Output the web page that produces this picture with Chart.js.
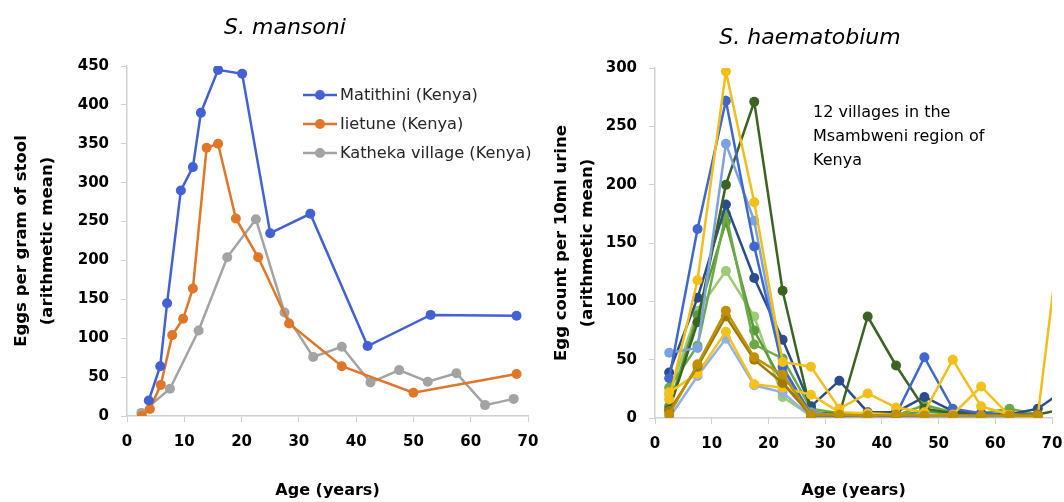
<!DOCTYPE html>
<html>
<head>
<meta charset="utf-8">
<script src="https://cdn.jsdelivr.net/npm/chart.js@4.4.1/dist/chart.umd.min.js"></script>
<style>
  html, body { margin: 0; padding: 0; background: #fff; }
  body { width: 1064px; height: 502px; position: relative; overflow: hidden; }
  .panel { position: absolute; top: 0; height: 502px; }
  #left { left: 0; width: 540px; }
  #right { left: 540px; width: 524px; }
</style>
</head>
<body>
<div class="panel" id="left"><canvas id="mansoni"></canvas></div>
<div class="panel" id="right"><canvas id="haema"></canvas></div>
<script>
// S. mansoni, three villages (age in years, eggs per gram)
const mansoniLabels = ['Matithini (Kenya)', 'Iietune (Kenya)', 'Katheka village (Kenya)'];
const matithiniAge = [3.8, 5.8, 7, 9.4, 11.5, 12.9, 15.9, 20.1, 25, 32, 42, 53, 68];
const matithiniEggs = [20, 64, 145, 290, 320, 390, 445, 440, 235, 260, 90, 130, 129];
const iietuneAge = [2.6, 4, 5.9, 7.9, 9.8, 11.5, 13.9, 15.9, 19, 22.9, 28.3, 37.5, 50, 68];
const iietuneEggs = [0, 9, 40, 104, 125, 164, 345, 350, 254, 204, 119, 64, 30, 54];
const kathekaAge = [2.5, 7.5, 12.5, 17.5, 22.5, 27.5, 32.5, 37.5, 42.5, 47.5, 52.5, 57.5, 62.5, 67.5];
const kathekaEggs = [4, 35, 110, 204, 253, 133, 76, 89, 43, 59, 44, 55, 14, 22];

// S. haematobium, 12 villages in Msambweni (age group midpoints)
const haemAges = [2.5, 7.5, 12.5, 17.5, 22.5, 27.5, 32.5, 37.5, 42.5, 47.5, 52.5, 57.5, 62.5, 67.5, 72.5];
const village1 = [3, 46, 92, 52, 37, 3, 3, 2, 3, 2, 2, 2, 2, 2];
const village2 = [6, 44, 87, 50, 30, 2, 2, 2, 2, 2, 2, 2, 2, 3];
const village3 = [22, 38, 74, 29, 26, 20, 5, 4, 3, 2, 3, 27, 2, 1];
const village4 = [0, 36, 68, 28, 22, 1, 0, 0, 0, 0, 0, 1, 1, 1];
const village5 = [16, 118, 297, 185, 48, 44, 8, 21, 9, 5, 50, 10, 3, 2, 200];
const village6 = [34, 162, 272, 147, 44, 3, 2, 2, 3, 52, 8, 4, 2, 2];
const village7 = [56, 60, 235, 169, 40, 5, 2, 2, 2, 3, 2, 2, 2, 3];
const village8 = [7, 82, 200, 271, 109, 5, 3, 87, 45, 8, 4, 3, 3, 3, 8];
const village9 = [39, 103, 183, 120, 67, 10, 32, 5, 5, 18, 6, 4, 3, 8, 25];
const village10 = [26, 62, 175, 63, 51, 8, 4, 3, 2, 11, 5, 4, 8, 3];
const village11 = [10, 88, 168, 75, 30, 5, 3, 2, 2, 6, 3, 2, 5, 2];
const village12 = [20, 92, 126, 87, 18, 2, 1, 1, 1, 3, 1, 1, 4, 1];
const villageSeries = [village1, village2, village3, village4, village5, village6,
  village7, village8, village9, village10, village11, village12];
const villageColors = ['#BF9000', '#A07A08', '#F3C21C', '#8FB0E8', '#F2BE1A', '#4068CC',
  '#7BA3E2', '#3B6321', '#2B4C8C', '#6DAA45', '#5A9A3A', '#9BCB74'];

const xTicks = [0, 10, 20, 30, 40, 50, 60, 70];

Chart.defaults.font.family = '"DejaVu Sans", sans-serif';
Chart.defaults.color = '#000';

const toPoints = (xs, ys) => ys.map((y, i) => ({ x: xs[i], y }));

// free text (panel titles, notes)
const panelText = {
  id: 'panelText',
  afterDraw(chart, args, opts) {
    const { ctx } = chart;
    (opts.items || []).forEach((item) => {
      ctx.save();
      ctx.font = item.font;
      ctx.fillStyle = '#000';
      ctx.textAlign = item.align || 'left';
      ctx.textBaseline = 'middle';
      ctx.fillText(item.text, item.x, item.y);
      ctx.restore();
    });
  },
};

// legend drawn inside the plot, excel style
const insideLegend = {
  id: 'insideLegend',
  afterDraw(chart, args, opts) {
    if (!opts.display) return;
    const { ctx } = chart;
    chart.data.datasets.forEach((ds, i) => {
      const y = opts.y + i * opts.rowHeight;
      ctx.save();
      ctx.strokeStyle = ds.borderColor;
      ctx.lineWidth = ds.borderWidth;
      ctx.beginPath();
      ctx.moveTo(opts.x, y);
      ctx.lineTo(opts.x + opts.sample, y);
      ctx.stroke();
      ctx.fillStyle = ds.backgroundColor;
      ctx.beginPath();
      ctx.arc(opts.x + opts.sample / 2, y, ds.pointRadius, 0, Math.PI * 2);
      ctx.fill();
      ctx.font = opts.font;
      ctx.fillStyle = '#262626';
      ctx.textBaseline = 'middle';
      ctx.fillText(ds.label, opts.x + opts.sample + 3, y + 1);
      ctx.restore();
    });
  },
};

const axisGrey = '#d0d0d0';

function scales(yMax, yWidth, xHeight, yTitle) {
  return {
    x: {
      type: 'linear',
      min: 0,
      max: 70,
      afterBuildTicks: (s) => { s.ticks = xTicks.map(v => ({ value: v })); },
      afterFit: (s) => { s.height = xHeight; s.paddingLeft = 0; s.paddingRight = 0; },
      grid: { display: true, drawOnChartArea: false, drawTicks: true, tickLength: 6, color: axisGrey },
      border: { color: axisGrey, width: 1.5 },
      ticks: { font: { size: 15, weight: 'bold' }, padding: 11, maxRotation: 0 },
      title: { display: true, text: 'Age (years)', font: { size: 16, weight: 'bold' }, padding: { top: 0, bottom: 2 } },
    },
    y: {
      min: 0,
      max: yMax,
      afterFit: (s) => { s.width = yWidth; },
      grid: { display: true, drawOnChartArea: false, drawTicks: true, tickLength: 6, color: axisGrey },
      border: { color: axisGrey, width: 1.5 },
      ticks: { stepSize: 50, font: { size: 15, weight: 'bold' }, padding: 12 },
      title: { display: true, text: yTitle, font: { size: 16.5, weight: 'bold', lineHeight: 1.55 }, padding: { top: 9, bottom: 0 } },
    },
  };
}

const leftColors = ['#4361D3', '#DF7628', '#A3A3A3'];
const leftSets = [
  toPoints(matithiniAge, matithiniEggs),
  toPoints(iietuneAge, iietuneEggs),
  toPoints(kathekaAge, kathekaEggs),
];

new Chart(document.getElementById('mansoni'), {
  type: 'line',
  data: {
    datasets: leftSets.map((pts, i) => ({
      label: mansoniLabels[i],
      data: pts,
      borderColor: leftColors[i],
      backgroundColor: leftColors[i],
      borderWidth: 2.5,
      pointRadius: 5,
      pointBorderWidth: 0,
      tension: 0,
    })),
  },
  options: {
    responsive: true,
    maintainAspectRatio: false,
    animation: false,
    layout: { padding: { top: 66, right: 12, left: 0, bottom: 0 } },
    scales: scales(450, 127, 86, ['Eggs per gram of stool', '(arithmetic mean)']),
    plugins: {
      legend: { display: false },
      tooltip: { enabled: false },
      insideLegend: { display: true, x: 303, y: 95, rowHeight: 29, sample: 34, font: '16.2px "DejaVu Sans"' },
      panelText: { items: [{ text: 'S. mansoni', x: 285, y: 28, align: 'center', font: 'italic 22px "DejaVu Sans"' }] },
    },
  },
  plugins: [panelText, insideLegend],
});

new Chart(document.getElementById('haema'), {
  type: 'line',
  data: {
    datasets: villageSeries.map((vals, i) => ({
      label: 'Village ' + (i + 1),
      data: toPoints(haemAges, vals),
      borderColor: villageColors[i],
      backgroundColor: villageColors[i],
      borderWidth: 2.5,
      pointRadius: 5,
      pointBorderWidth: 0,
      tension: 0,
    })),
  },
  options: {
    responsive: true,
    maintainAspectRatio: false,
    animation: false,
    layout: { padding: { top: 68, right: 12, left: 0, bottom: 0 } },
    scales: scales(300, 115, 84, ['Egg count per 10ml urine', '(arithmetic mean)']),
    plugins: {
      legend: { display: false },
      tooltip: { enabled: false },
      panelText: {
        items: [
          { text: 'S. haematobium', x: 270, y: 38, align: 'center', font: 'italic 22px "DejaVu Sans"' },
          { text: '12 villages in the', x: 273, y: 113, font: '16px "DejaVu Sans"' },
          { text: 'Msambweni region of', x: 273, y: 137, font: '16px "DejaVu Sans"' },
          { text: 'Kenya', x: 273, y: 161, font: '16px "DejaVu Sans"' },
        ],
      },
    },
  },
  plugins: [panelText],
});
</script>
</body>
</html>
